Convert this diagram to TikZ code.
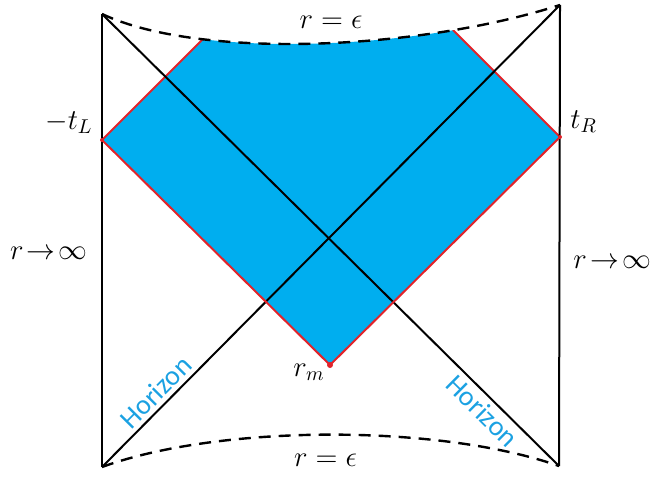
\documentclass[tikz,border=0pt]{standalone}
\usepackage{fontspec}
\usepackage{amsmath}
\usetikzlibrary{positioning,calc}
\newfontfamily\horizonfont{Carlito}
\definecolor{wedgeblue}{HTML}{00AEEF}
\definecolor{wedgered}{HTML}{E2232A}
\definecolor{horizoncyan}{HTML}{1BA1E2}

\begin{document}
\begin{tikzpicture}[
  x=0.5pt, y=-0.5pt,
  font=\Large,
  edge/.style={draw=black, line width=1pt},
  cutoff/.style={draw=black, line width=1.2pt, dash pattern=on 6pt off 4pt},
  wall/.style={draw=wedgered, line width=1pt},
  horizonlabel/.style={font=\horizonfont\fontsize{14}{16}\selectfont,
    text=horizoncyan, sloped, inner sep=2pt},
  tag/.style={inner sep=1pt}
]
  \useasboundingbox (0,0) rectangle (651,476);

  % corners of the diagram
  \coordinate (TL) at (102,14);
  \coordinate (TR) at (560,5);
  \coordinate (BL) at (102,467);
  \coordinate (BR) at (559,466);
  % wedge
  \coordinate (tL) at (102,140);
  \coordinate (tR) at (560,137);
  \coordinate (rm) at (330,365);
  \coordinate (apex) at (332.5,-90.5);

  % blue region, cut by the r = epsilon curve
  \begin{scope}
    \clip (TL) .. controls (200,60) and (420,50) .. (TR) -- (TR |- 0,520)
      -- (TL |- 0,520) -- cycle;
    \fill[wedgeblue] (tL) -- (apex) -- (tR) -- (rm) -- cycle;
    \draw[wall] (tL) -- (apex);
    \draw[wall] (tR) -- (apex);
  \end{scope}

  \draw[edge] (TL) -- (BL);
  \draw[edge] (TR) -- (BR);
  \draw[edge] (BL) -- node[horizonlabel, pos=0.14, above] (hzleft) {Horizon} (TR);
  \draw[edge] (TL) -- node[horizonlabel, pos=0.855, below] (hzright) {Horizon} (BR);

  \draw[wall] (tL) -- (rm) -- (tR);
  \fill[wedgered] (rm) circle (3);
  \fill[wedgered] (tL) circle (2);
  \fill[wedgered] (tR) circle (2);

  \draw[cutoff] (TL) .. controls (200,60) and (420,50) .. (TR);
  \draw[cutoff] (BL) .. controls (220,424) and (440,424) .. (BR);

  \coordinate (topmid) at ($(TL)!0.5!(TR)$);
  \coordinate (leftmid) at (102,253);
  \coordinate (rightmid) at (559,262);

  \node[tag, below=2pt of topmid] (toplabel) {$r=\epsilon$};
  \node[tag] (botlabel) at ($(BL)!0.5!(BR)+(-5,-6)$) {$r=\epsilon$};
  \node[tag, above left=2pt and 3.5pt of tL] (tLlabel) {$-t_L$};
  \node[tag, above right=1pt and 4pt of tR] (tRlabel) {$t_R$};
  \node[tag, left=1.5pt of rm, yshift=-3.5pt] (rmlabel) {$r_m$};
  \node[tag, left=6pt of leftmid] (leftinf) {$r\!\to\!\infty$};
  \node[tag, right=6pt of rightmid] (rightinf) {$r\!\to\!\infty$};
\end{tikzpicture}
\end{document}
